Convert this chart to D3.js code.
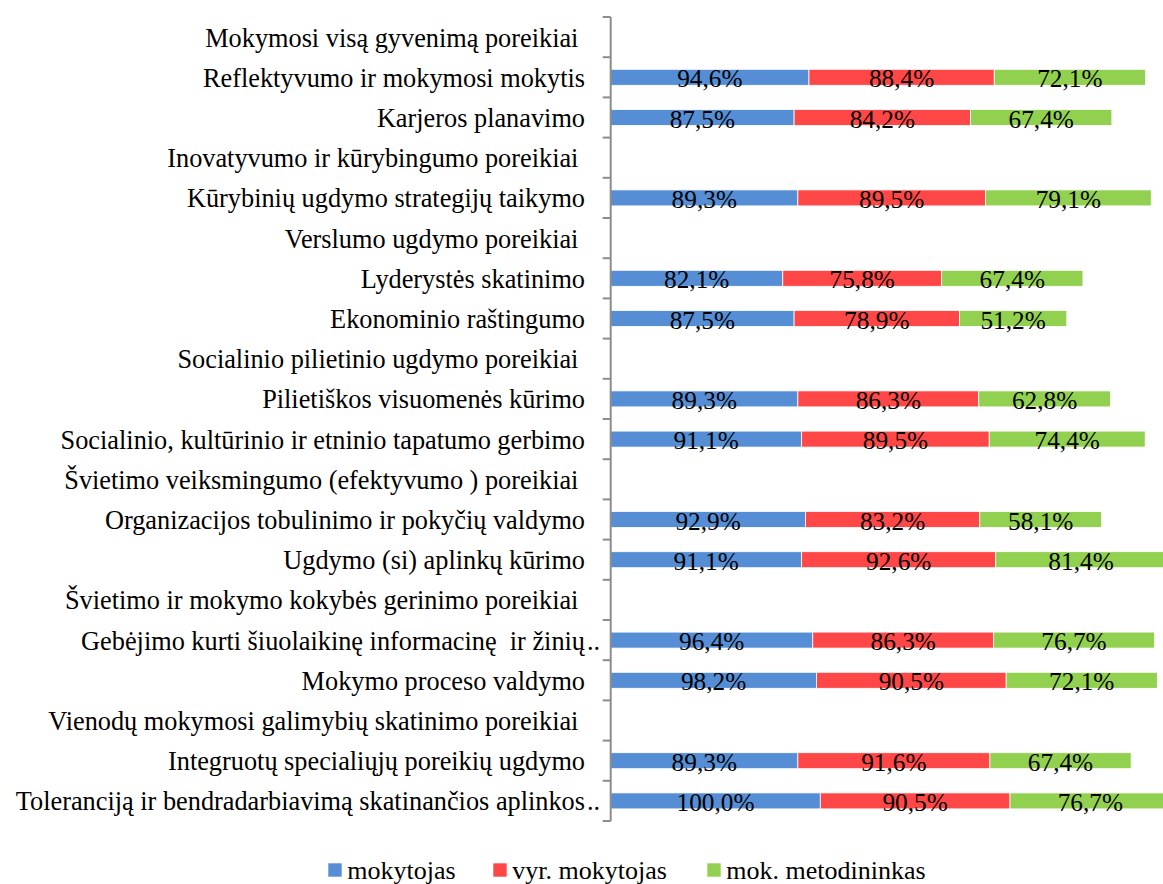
<!DOCTYPE html>
<html>
<head>
<meta charset="utf-8">
<script src="https://cdn.jsdelivr.net/npm/d3@7"></script>
<style>
  body { margin: 0; background: #fff; }
  text { font-family: "Liberation Serif", "Times New Roman", serif; }
</style>
</head>
<body>
<div id="chart"></div>
<script>
// categories, top to bottom (rows without bars are group headings)
const categories = [
  "Mokymosi visą gyvenimą poreikiai ",
  "Reflektyvumo ir mokymosi mokytis",
  "Karjeros planavimo",
  "Inovatyvumo ir kūrybingumo poreikiai ",
  "Kūrybinių ugdymo strategijų taikymo",
  "Verslumo ugdymo poreikiai ",
  "Lyderystės skatinimo",
  "Ekonominio raštingumo",
  "Socialinio pilietinio ugdymo poreikiai ",
  "Pilietiškos visuomenės kūrimo",
  "Socialinio, kultūrinio ir etninio tapatumo gerbimo",
  "Švietimo veiksmingumo (efektyvumo ) poreikiai ",
  "Organizacijos tobulinimo ir pokyčių valdymo",
  "Ugdymo (si) aplinkų kūrimo",
  "Švietimo ir mokymo kokybės gerinimo poreikiai ",
  "Gebėjimo kurti šiuolaikinę informacinę  ir žinių..",
  "Mokymo proceso valdymo",
  "Vienodų mokymosi galimybių skatinimo poreikiai ",
  "Integruotų specialiųjų poreikių ugdymo",
  "Toleranciją ir bendradarbiavimą skatinančios aplinkos.."
];

const seriesNames = ["mokytojas", "vyr. mokytojas", "mok. metodininkas"];
const colors = ["#558ed5", "#ff4747", "#92d050"];

// null = heading row without bars
const mokytojas = [null, 94.6, 87.5, null, 89.3, null, 82.1, 87.5, null, 89.3, 91.1, null, 92.9, 91.1, null, 96.4, 98.2, null, 89.3, 100.0];
const vyrMokytojas = [null, 88.4, 84.2, null, 89.5, null, 75.8, 78.9, null, 86.3, 89.5, null, 83.2, 92.6, null, 86.3, 90.5, null, 91.6, 90.5];
const mokMetodininkas = [null, 72.1, 67.4, null, 79.1, null, 67.4, 51.2, null, 62.8, 74.4, null, 58.1, 81.4, null, 76.7, 72.1, null, 67.4, 76.7];

const width = 1163, height = 884;
const axisX = 610.7;

const table = categories.map((c, i) => ({
  cat: c,
  vals: [mokytojas[i], vyrMokytojas[i], mokMetodininkas[i]]
}));

const y = d3.scaleBand().domain(categories).range([17, 821]);
const x = d3.scaleLinear().domain([0, 100]).range([axisX, axisX + 209.6]);

const svg = d3.select("#chart").append("svg")
    .attr("width", width)
    .attr("height", height);

// bars
table.forEach(row => {
  if (row.vals[0] == null) return;
  let acc = 0;
  const segs = row.vals.map((v, k) => {
    const s = { k, v, x0: acc, x1: acc + v };
    acc += v;
    return s;
  });
  const cy = y(row.cat) + y.bandwidth() / 2;
  const g = svg.append("g");
  g.selectAll("rect")
    .data(segs)
    .join("rect")
      .attr("x", d => x(d.x0))
      .attr("y", cy - 8)
      .attr("width", d => x(d.x1) - x(d.x0))
      .attr("height", 16)
      .attr("fill", d => colors[d.k])
      .attr("stroke", "#fff")
      .attr("stroke-width", 0.8);
  g.selectAll("text")
    .data(segs)
    .join("text")
      .attr("x", d => (x(d.x0) + x(d.x1)) / 2)
      .attr("y", cy + 10)
      .attr("text-anchor", "middle")
      .attr("font-size", 25.3)
      .attr("fill", "#000")
      .text(d => d.v.toFixed(1).replace(".", ",") + "%");
});

// category axis
const axis = svg.append("g");
axis.append("line")
    .attr("x1", axisX).attr("x2", axisX)
    .attr("y1", y.range()[0]).attr("y2", y.range()[1])
    .attr("stroke", "#8c8c8c").attr("stroke-width", 2);
const ticks = categories.map(c => y(c)).concat([y.range()[1]]);
axis.selectAll(".tick")
  .data(ticks)
  .join("line")
    .attr("x1", axisX - 8).attr("x2", axisX)
    .attr("y1", d => d).attr("y2", d => d)
    .attr("stroke", "#8c8c8c").attr("stroke-width", 2);

// truncated labels: the ".." hangs past the label edge, like Excel does
const labelY = d => y(d) + y.bandwidth() / 2 + 9.4;
axis.selectAll(".cat")
  .data(categories)
  .join("text")
    .attr("class", "cat")
    .attr("x", 585)
    .attr("y", labelY)
    .attr("text-anchor", "end")
    .attr("font-size", 26.3)
    .style("white-space", "pre")
    .text(d => d.replace(/\.\.$/, ""));
axis.selectAll(".dots")
  .data(categories.filter(d => d.endsWith("..")))
  .join("text")
    .attr("class", "dots")
    .attr("x", 587)
    .attr("y", labelY)
    .attr("font-size", 26.3)
    .text("..");

// legend
const legendItems = [
  { name: seriesNames[0], x: 328.3 },
  { name: seriesNames[1], x: 493.3 },
  { name: seriesNames[2], x: 707.3 }
];
const legend = svg.append("g");
legendItems.forEach((it, i) => {
  legend.append("rect")
      .attr("x", it.x).attr("y", 863.3)
      .attr("width", 13.4).attr("height", 13.4)
      .attr("fill", colors[i]);
  legend.append("text")
      .attr("x", it.x + 19).attr("y", 879.3)
      .attr("font-size", 26)
      .text(it.name);
});
</script>
</body>
</html>
